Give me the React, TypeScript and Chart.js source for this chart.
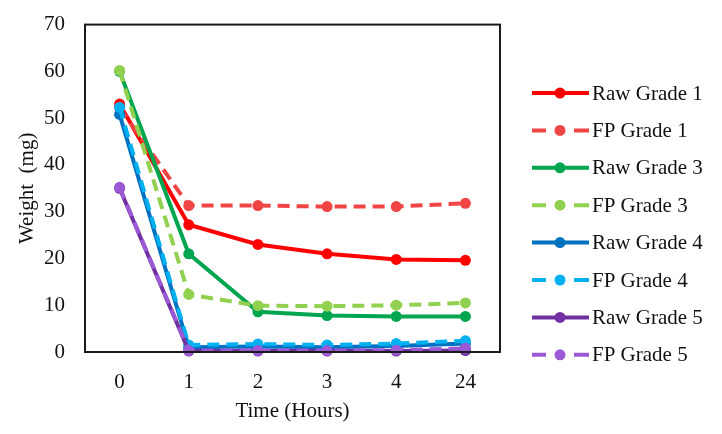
import React, { useEffect, useRef } from "react";
import { Chart, registerables } from "chart.js";

Chart.register(...registerables);

const categories = ["0", "1", "2", "3", "4", "24"];
const seriesNames = [
  "Raw Grade 1",
  "FP Grade 1",
  "Raw Grade 3",
  "FP Grade 3",
  "Raw Grade 4",
  "FP Grade 4",
  "Raw Grade 5",
  "FP Grade 5",
];
const raw1 = [53, 27.2, 23, 21, 19.8, 19.6];
const fp1 = [52.3, 31.3, 31.3, 31.1, 31.1, 31.8];
const raw3 = [60, 21, 8.6, 7.8, 7.6, 7.6];
const fp3 = [60.2, 12.3, 9.9, 9.8, 10, 10.5];
const raw4 = [50.8, 1.0, 1.2, 1.0, 1.3, 1.8];
const fp4 = [52.3, 1.5, 1.7, 1.5, 1.8, 2.4];
const raw5 = [35, 0.2, 0.2, 0.2, 0.2, 0.3];
const fp5 = [35.2, 0.3, 0.3, 0.3, 0.4, 0.8];
const seriesValues = [raw1, fp1, raw3, fp3, raw4, fp4, raw5, fp5];
const seriesColors = [
  "#FF0000",
  "#F04545",
  "#00A550",
  "#92D050",
  "#0070C0",
  "#00B0F0",
  "#7030A0",
  "#9B59D6",
];
const dashed = [false, true, false, true, false, true, false, true];

const FONT = "'Liberation Serif', 'Times New Roman', serif";
const DASH = [12, 7];

const frameAndLegend = {
  id: "frameAndLegend",
  afterDatasetsDraw(chart: any) {
    const { ctx, chartArea } = chart;
    ctx.save();
    ctx.strokeStyle = "#1a1a1a";
    ctx.lineWidth = 2;
    ctx.strokeRect(chartArea.left, chartArea.top, chartArea.right - chartArea.left, chartArea.bottom - chartArea.top);
    ctx.restore();
  },
  afterDraw(chart: any) {
    const { ctx } = chart;
    ctx.save();
    const x0 = 532;
    const x1 = 589;
    const cx = 560;
    const startY = 93;
    const step = 37.4;
    chart.data.datasets.forEach((ds: any, i: number) => {
      const y = startY + i * step;
      ctx.strokeStyle = ds.borderColor;
      ctx.fillStyle = ds.borderColor;
      ctx.lineWidth = 4;
      ctx.lineCap = "butt";
      ctx.beginPath();
      if (dashed[i]) {
        ctx.moveTo(x0, y);
        ctx.lineTo(x0 + 14, y);
        ctx.moveTo(x1 - 15, y);
        ctx.lineTo(x1, y);
      } else {
        ctx.moveTo(x0, y);
        ctx.lineTo(x1, y);
      }
      ctx.stroke();
      ctx.beginPath();
      ctx.arc(cx, y, 5.5, 0, Math.PI * 2);
      ctx.fill();
      ctx.fillStyle = "#111";
      ctx.font = `21px ${FONT}`;
      ctx.textAlign = "left";
      ctx.textBaseline = "middle";
      ctx.fillText(ds.label, 592, y + 1);
    });
    ctx.restore();
  },
};

export default function App() {
  const ref = useRef<HTMLCanvasElement | null>(null);
  useEffect(() => {
    if (!ref.current) return;
    const datasets = seriesNames.map((name, i) => ({
      label: name,
      data: seriesValues[i],
      borderColor: seriesColors[i],
      backgroundColor: seriesColors[i],
      pointBackgroundColor: seriesColors[i],
      pointBorderColor: seriesColors[i],
      borderWidth: 4,
      borderDash: dashed[i] ? DASH : [],
      pointRadius: 5.5,
      pointHoverRadius: 5.5,
      pointBorderWidth: 0,
      tension: 0,
      fill: false,
      clip: false as any,
      order: seriesNames.length - i,
    }));
    const chart = new Chart(ref.current, {
      type: "line",
      data: { labels: categories, datasets },
      options: {
        animation: false,
        responsive: true,
        maintainAspectRatio: false,
        layout: { padding: { top: 14, right: 222, left: 0, bottom: 0 } },
        plugins: {
          legend: { display: false },
          tooltip: { enabled: false },
        },
        scales: {
          x: {
            offset: true,
            grid: { display: false },
            border: { display: false },
            ticks: {
              color: "#111",
              font: { family: FONT, size: 21 },
              padding: 10,
              maxRotation: 0,
            },
            title: {
              display: true,
              text: "Time (Hours)",
              color: "#111",
              font: { family: FONT, size: 21 },
              padding: { top: 0, bottom: 10 },
            },
            afterFit(scale: any) {
              scale.height = 82;
            },
          },
          y: {
            min: 0,
            max: 70,
            grid: { display: false },
            border: { display: false },
            ticks: {
              stepSize: 10,
              color: "#111",
              font: { family: FONT, size: 21 },
              padding: 12,
            },
            title: {
              display: true,
              text: "Weight  (mg)",
              color: "#111",
              font: { family: FONT, size: 21 },
              padding: { top: 15, bottom: 0 },
            },
            afterFit(scale: any) {
              scale.width = 85;
            },
          },
        },
      },
      plugins: [frameAndLegend],
    });
    return () => chart.destroy();
  }, []);
  return (
    <div style={{ position: "absolute", left: 0, top: 0, width: 722, height: 434, background: "#fff" }}>
      <canvas ref={ref} />
    </div>
  );
}
